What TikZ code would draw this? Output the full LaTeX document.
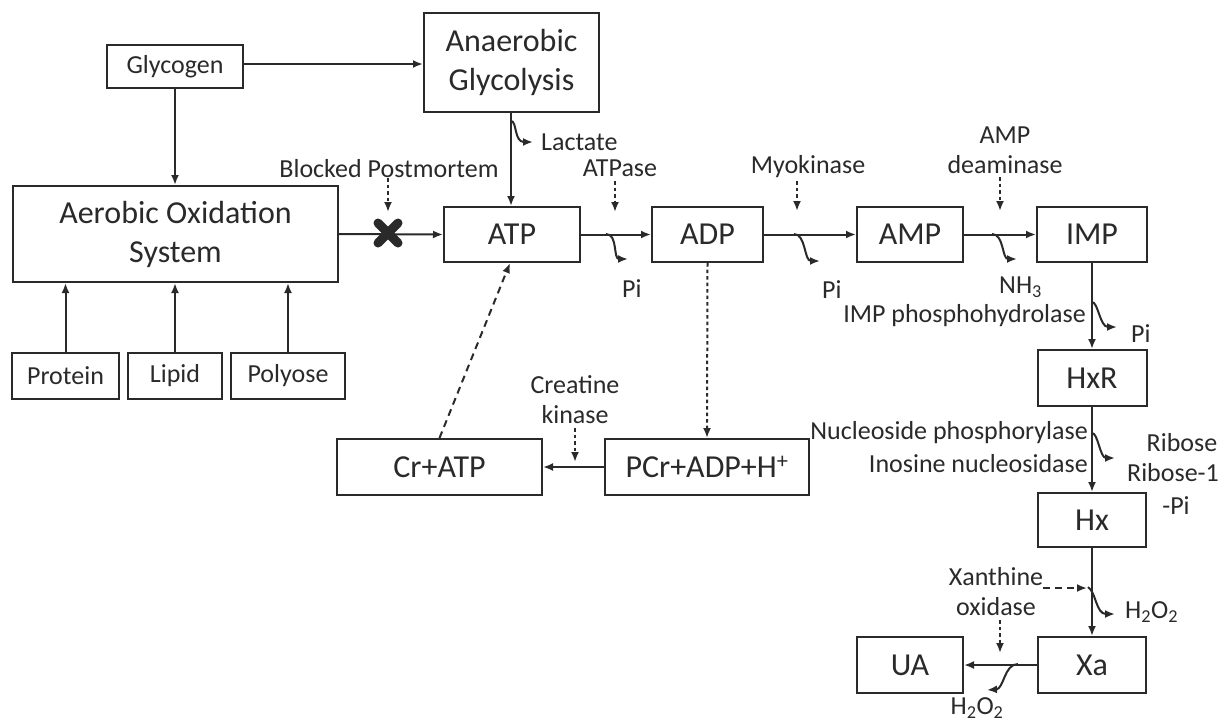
\documentclass[tikz,border=0pt]{standalone}
\usepackage{fontspec}
\setmainfont{Carlito}
\usetikzlibrary{arrows.meta,calc}
\definecolor{ink}{HTML}{2A2A2A}
\tikzset{
  box/.style={draw=ink, line width=2pt, inner sep=0pt, text=ink, font=\fontsize{32}{39}\selectfont, align=center},
  sbox/.style={box, font=\fontsize{26}{30}\selectfont},
  lbl/.style={inner sep=0pt, text=ink, font=\fontsize{26}{30}\selectfont, align=center},
  conn/.style={draw=ink, line width=2pt, -{Latex[length=10pt,width=8pt]}},
  dotconn/.style={conn, dash pattern=on 3.5pt off 3pt},
  dashconn/.style={conn, dash pattern=on 7pt off 5pt},
  sq/.style={draw=ink, line width=2pt, -{Latex[length=10pt,width=8pt]}},
}
\begin{document}
\begin{tikzpicture}[x=1pt,y=-1pt]
\useasboundingbox (0,0) rectangle (1226,724);
\fill[white] (0,0) rectangle (1226,724);

% boxes
\node[sbox, minimum width=136pt, minimum height=43pt] (glyc) at (175,66.5) {Glycogen};
\node[box, minimum width=175pt, minimum height=99pt] (anaer) at (511.5,62.5) {Anaerobic\\Glycolysis};
\node[box, minimum width=325pt, minimum height=96pt] (aer) at (175.5,234) {Aerobic Oxidation\\System};
\node[sbox, minimum width=107pt, minimum height=46pt] (prot) at (65.5,376) {Protein};
\node[sbox, minimum width=94pt, minimum height=46pt] (lip) at (175,376) {Lipid};
\node[sbox, minimum width=114pt, minimum height=46pt] (poly) at (288,376) {Polyose};
\node[box, minimum width=136pt, minimum height=55pt] (atp) at (512,234.5) {ATP};
\node[box, minimum width=111pt, minimum height=55pt] (adp) at (707.5,234.5) {ADP};
\node[box, minimum width=106pt, minimum height=55pt] (amp) at (910,234.5) {AMP};
\node[box, minimum width=110pt, minimum height=55pt] (imp) at (1092,234.5) {IMP};
\node[box, minimum width=109pt, minimum height=56pt] (hxr) at (1092,378) {HxR};
\node[box, minimum width=108pt, minimum height=54pt] (hx) at (1092,520) {Hx};
\node[box, minimum width=108pt, minimum height=56pt] (xa) at (1092,665) {Xa};
\node[box, minimum width=106pt, minimum height=56pt] (ua) at (910,665) {UA};
\node[box, minimum width=205pt, minimum height=56pt] (cratp) at (439.5,467) {Cr+ATP};
\node[box, minimum width=204pt, minimum height=56pt] (pcr) at (707,467) {PCr+ADP+H\textsuperscript{+}};

% labels
\node[lbl] (blk) at (389,169) {Blocked Postmortem};
\node[lbl, anchor=west] (lac) at (541,142) {Lactate};
\node[lbl] (atpase) at (620,168) {ATPase};
\node[lbl, anchor=west] (pi1) at (622,289) {Pi};
\node[lbl] (myo) at (808,167) {Myokinase};
\node[lbl, anchor=west] (pi2) at (822,290) {Pi};
\node[lbl] (ampd) at (1005,150) {AMP\\deaminase};
\node[lbl, anchor=west] (nh3) at (999,287) {NH\textsubscript{3}};
\node[lbl, anchor=east] (imph) at (1086,316) {IMP phosphohydrolase};
\node[lbl, anchor=west] (pi3) at (1131,334) {Pi};
\node[lbl, anchor=east] (nuc) at (1088,433) {Nucleoside phosphorylase};
\node[lbl, anchor=east] (ino) at (1088,464) {Inosine nucleosidase};
\node[lbl] (rib1) at (1182,443) {Ribose};
\node[lbl] (rib2) at (1173,473) {Ribose-1};
\node[lbl] (rib3) at (1176,506) {-Pi};
\node[lbl] (xan) at (996,592) {Xanthine\\oxidase};
\node[lbl, anchor=west] (h2o2a) at (1125,612) {H\textsubscript{2}O\textsubscript{2}};
\node[lbl] (h2o2b) at (977,708) {H\textsubscript{2}O\textsubscript{2}};
\node[lbl] (ck) at (575,400) {Creatine\\kinase};

% coordinates
\coordinate (xm) at (388,233);
\coordinate (blkend) at (388,212);
\coordinate (atpasetop) at (615,181);
\coordinate (atpaseend) at (615,212);
\coordinate (myotop) at (797,181);
\coordinate (myoend) at (797,211);
\coordinate (ampdtop) at (1000,177);
\coordinate (ampdend) at (1000,211);
\coordinate (cktop) at (575,428);
\coordinate (ckend) at (575,462);
\coordinate (xandash0) at (1043,588);
\coordinate (xandash1) at (1087,588);
\coordinate (oxtop) at (1000,620);
\coordinate (oxend) at (1000,653);

% main connectors
\draw[conn] (glyc.east |- 0,64) -- (anaer.west |- 0,64);
\draw[conn] (glyc.south) -- (glyc.south |- aer.north);
\draw[conn] (prot.north) -- (prot.north |- aer.south);
\draw[conn] (lip.north) -- (lip.north |- aer.south);
\draw[conn] (poly.north) -- (poly.north |- aer.south);
\draw[conn] (aer.east) -- (atp.west);
\draw[conn] (anaer.south -| 511,0) -- (atp.north -| 511,0);
\draw[conn] (atp.east) -- (adp.west);
\draw[conn] (adp.east) -- (amp.west);
\draw[conn] (amp.east) -- (imp.west);
\draw[conn] (imp.south) -- (hxr.north);
\draw[conn] (hxr.south) -- (hx.north);
\draw[conn] (hx.south) -- (xa.north);
\draw[conn] (xa.west) -- (ua.east);
\draw[conn] (pcr.west) -- (cratp.east);
\draw[dotconn] (adp.south) -- (pcr.north);
\draw[dashconn] (cratp.north) -- ([xshift=-2pt]atp.south);

% blocked X
\draw[ink, line width=9pt, line cap=round] ($(xm)+(-10,-10)$) -- ($(xm)+(10,10)$);
\draw[ink, line width=9pt, line cap=round] ($(xm)+(-10,10)$) -- ($(xm)+(10,-10)$);

% enzyme arrows
\draw[dotconn] (blk.south -| blkend) -- (blkend);
\draw[dotconn] (atpasetop) -- (atpaseend);
\draw[dotconn] (myotop) -- (myoend);
\draw[dotconn] (ampdtop) -- (ampdend);
\draw[dotconn] (cktop) -- (ckend);
\draw[dotconn] (oxtop) -- (oxend);
\draw[dashconn] (xandash0) -- (xandash1);

% squiggles
\draw[sq] (511,121) .. controls (517,121) and (514,142) .. (533,142);
\draw[sq] (606,234) .. controls (618,234) and (613,259) .. (628,259);
\draw[sq] (794,234) .. controls (806,234) and (804,261) .. (820,261);
\draw[sq] (992,234) .. controls (1004,234) and (1002,259) .. (1017,259);
\draw[sq] (1092,302) .. controls (1098,302) and (1100,327) .. (1117,327);
\draw[sq] (1092,433) .. controls (1098,433) and (1100,458) .. (1115,458);
\draw[sq] (1088,587) .. controls (1096,592) and (1096,614) .. (1115,614);
\draw[sq] (1018,664) .. controls (1004,664) and (1004,689) .. (987,690);
\end{tikzpicture}
\end{document}
